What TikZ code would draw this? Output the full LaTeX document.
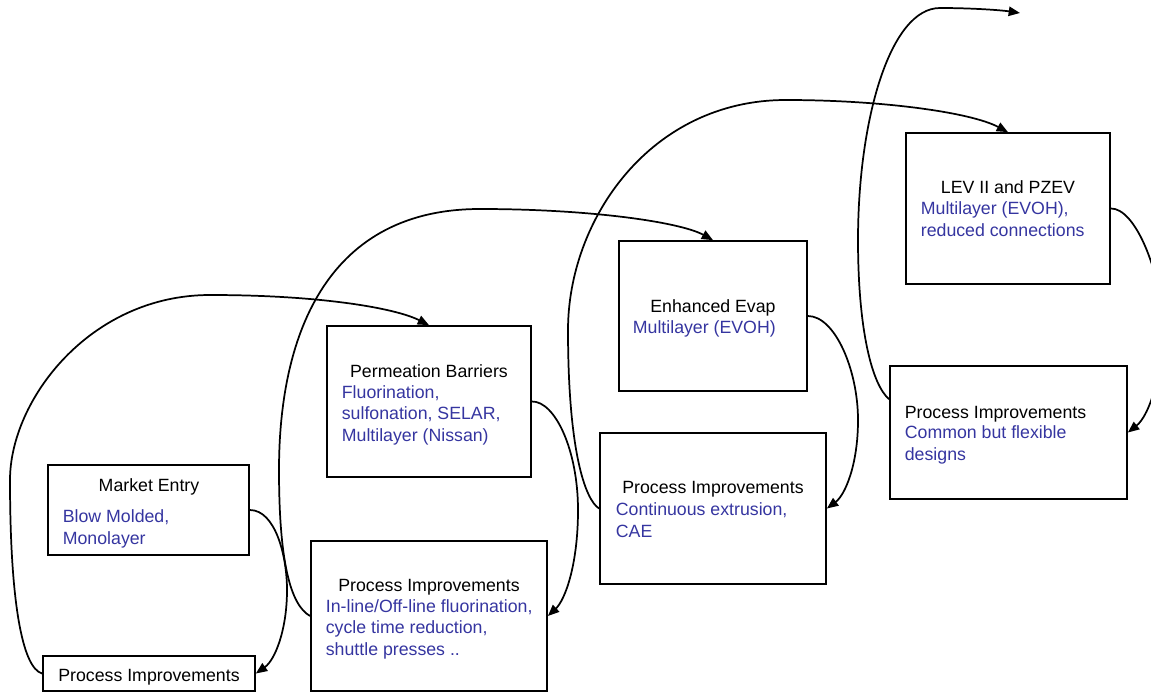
\documentclass[tikz,border=0pt]{standalone}
\usepackage{fontspec}
\setsansfont{Liberation Sans}
\usetikzlibrary{arrows,arrows.meta,fit,positioning,calc}
\tikzset{every picture/.style={/utils/exec={\sffamily}}}
\definecolor{evap-blue}{HTML}{3535A0}

\begin{document}
\begin{tikzpicture}[x=0.75pt, y=-0.75pt, line width=1.3pt,
    box/.style={draw, inner sep=0pt, fit={#1}},
    ttl/.style={inner sep=0pt, anchor=base, font=\fontsize{13.3}{16}\selectfont},
    ttlw/.style={ttl, anchor=base west},
    txt/.style={inner sep=0pt, anchor=base west, align=left, text=evap-blue, font=\fontsize{13.3}{16}\selectfont},
    arr/.style={-{Triangle[length=8.5pt,width=7pt]}}]
    \useasboundingbox (0,0) rectangle (1151,692);

    % stage boxes
    \node[box={(48,465) (249,555)}] (me) {};
    \node[box={(43,656) (255,691)}] (pi1) {};
    \node[box={(327,326) (531,477)}] (pb) {};
    \node[box={(311,541) (547,691)}] (pi2) {};
    \node[box={(619,241) (807,391)}] (ee) {};
    \node[box={(600,433) (826,584)}] (pi3) {};
    \node[box={(906,133) (1110,284)}] (lev) {};
    \node[box={(890,366) (1127,499)}] (pi4) {};

    % texts (blue blocks sit on their last line)
    \node[ttl] (me-t) at (149,491) {Market Entry};
    \node[txt] (me-b) at (62,544) {Blow Molded,\\Monolayer};
    \node[ttl] (pi1-t) at (149,681) {Process Improvements};
    \node[ttl] (pb-t) at (429,377) {Permeation Barriers};
    \node[txt] (pb-b) at (341,441) {Fluorination,\\sulfonation, SELAR,\\Multilayer (Nissan)};
    \node[ttl] (pi2-t) at (429,591) {Process Improvements};
    \node[txt] (pi2-b) at (325,655) {In-line/Off-line fluorination,\\cycle time reduction,\\shuttle presses ..};
    \node[ttl] (ee-t) at (713,312) {Enhanced Evap};
    \node[txt] (ee-b) at (632,333) {Multilayer (EVOH)};
    \node[ttl] (pi3-t) at (713,493) {Process Improvements};
    \node[txt] (pi3-b) at (615,537) {Continuous extrusion,\\CAE};
    \node[ttl] (lev-t) at (1008,193) {LEV II and PZEV};
    \node[txt] (lev-b) at (920,236) {Multilayer (EVOH),\\reduced connections};
    \node[ttlw] (pi4-t) at (904,418) {Process Improvements};
    \node[txt] (pi4-b) at (904,460) {Common but flexible\\designs};
    \coordinate (nxt) at (1020,13);

    % box -> process improvements
    \draw[arr] (me.east) .. controls (275,510) and (287,555) .. (287,590) .. controls (287,630) and (275,660) .. (pi1.east);
    \draw[arr] (pb.east) .. controls (555,401) and (578,450) .. (578,510) .. controls (578,565) and (565,600) .. (pi2.east);
    \draw[arr] (ee.east) .. controls (835,316) and (858,370) .. (858,420) .. controls (858,465) and (845,495) .. (pi3.east);
    \draw[arr] (lev.east) .. controls (1135,208) and (1160,270) .. (1162,320) .. controls (1164,370) and (1150,415) .. (pi4.east);

    % process improvements -> next stage
    \draw[arr] (pi1.west) .. controls (22,668) and (10,600) .. (10,480) .. controls (10,400) and (90,295) .. (210,295) .. controls (320,295) and (395,308) .. (pb.north);
    \draw[arr] (pi2.west) .. controls (290,605) and (279,560) .. (279,470) .. controls (279,330) and (330,209) .. (480,209) .. controls (590,209) and (680,222) .. (ee.north);
    \draw[arr] (pi3.west) .. controls (585,500) and (568,450) .. (568,330) .. controls (568,220) and (650,100) .. (786,100) .. controls (880,100) and (970,112) .. (lev.north);
    \draw[arr] ([yshift=25pt]pi4.west) .. controls (872,385) and (858,330) .. (858,240) .. controls (858,120) and (890,8) .. (940,8) .. controls (970,8) and (1000,10) .. (nxt);
\end{tikzpicture}
\end{document}
